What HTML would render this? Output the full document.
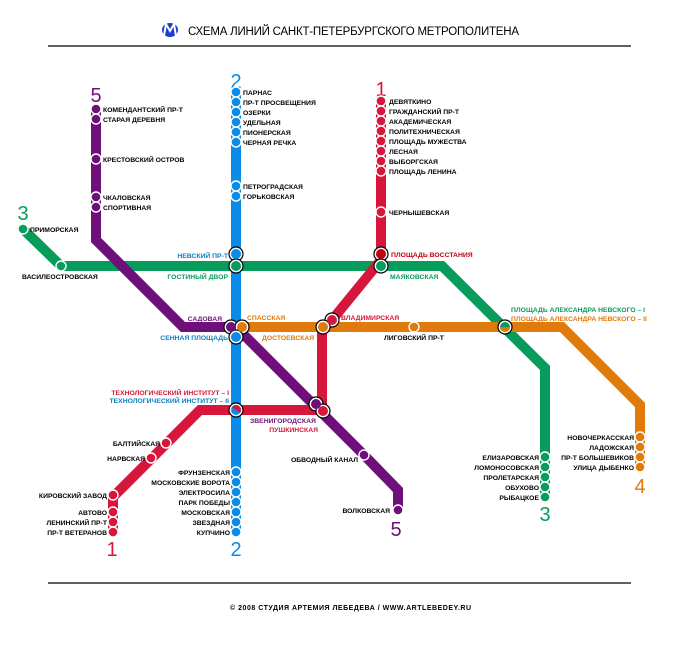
<!DOCTYPE html>
<html><head><meta charset="utf-8"><style>
body{margin:0;background:#fff}
svg{display:block}
text{font-family:"Liberation Sans","DejaVu Sans",sans-serif;font-weight:bold;font-size:6.8px}
.e{text-anchor:end}
text.num{font-size:20px;font-weight:normal;text-anchor:middle}
text.title{font-size:11.5px;font-weight:normal}
text.foot{font-size:7px}
</style></head><body>
<svg width="681" height="650" viewBox="0 0 681 650" xmlns="http://www.w3.org/2000/svg">
<g>
<ellipse cx="170" cy="30" rx="8" ry="7" fill="#1a3fd0"/>
<path d="M164 36 L166 24 L170 31 L174 24 L176 36" fill="none" stroke="#fff" stroke-width="2"/>
</g>
<text class="title" x="188" y="35" textLength="331">СХЕМА ЛИНИЙ САНКТ-ПЕТЕРБУРГСКОГО МЕТРОПОЛИТЕНА</text>
<line x1="48" y1="46" x2="631" y2="46" stroke="#000" stroke-width="1.3"/>
<line x1="48" y1="583" x2="631" y2="583" stroke="#000" stroke-width="1.3"/>
<text class="foot" x="230" y="610" textLength="241">© 2008 СТУДИЯ АРТЕМИЯ ЛЕБЕДЕВА  / WWW.ARTLEBEDEY.RU</text>

<g fill="none" stroke-width="10" stroke-linejoin="miter">
<polyline stroke="#079c5b" points="23,229 61,266 442,266 545,368 545,497"/>
<polyline stroke="#e07a0a" points="242,327 562,327 640,405 640,468"/>
<polyline stroke="#6e0f7a" points="96,109 96,240 183,327 231,327"/>
<polyline stroke="#6e0f7a" points="236,327 364,455 398,490 398,510"/>
<polyline stroke="#d6163a" points="381,100 381,260 332,320"/>
<polyline stroke="#d6163a" points="322,327 322,410 200,410 113,497 113,532"/>
<line stroke="#0a8be8" x1="236" y1="92" x2="236" y2="532"/>
</g>

<text class="num" x="236" y="88" fill="#0a8be8">2</text>
<text class="num" x="236" y="556" fill="#0a8be8">2</text>
<text class="num" x="381" y="96" fill="#d6163a">1</text>
<text class="num" x="112" y="556" fill="#d6163a">1</text>
<text class="num" x="96" y="102" fill="#6e0f7a">5</text>
<text class="num" x="396" y="536" fill="#6e0f7a">5</text>
<text class="num" x="23" y="220" fill="#079c5b">3</text>
<text class="num" x="545" y="521" fill="#079c5b">3</text>
<text class="num" x="640" y="493" fill="#e07a0a">4</text>

<g stroke="#fff" stroke-width="1.4">
<g fill="#0a8be8">
<circle cx="236" cy="92" r="5"/><circle cx="236" cy="102" r="5"/><circle cx="236" cy="112" r="5"/><circle cx="236" cy="122" r="5"/><circle cx="236" cy="132" r="5"/><circle cx="236" cy="142" r="5"/>
<circle cx="236" cy="186" r="5"/><circle cx="236" cy="196" r="5"/>
<circle cx="236" cy="472" r="5"/><circle cx="236" cy="482" r="5"/><circle cx="236" cy="492" r="5"/><circle cx="236" cy="502" r="5"/><circle cx="236" cy="512" r="5"/><circle cx="236" cy="522" r="5"/><circle cx="236" cy="532" r="5"/>
</g>
<g fill="#d6163a">
<circle cx="381" cy="101" r="5"/><circle cx="381" cy="111" r="5"/><circle cx="381" cy="121" r="5"/><circle cx="381" cy="131" r="5"/><circle cx="381" cy="141" r="5"/><circle cx="381" cy="151" r="5"/><circle cx="381" cy="161" r="5"/><circle cx="381" cy="171" r="5"/>
<circle cx="381" cy="212" r="5"/>
<circle cx="166" cy="443" r="5"/><circle cx="151" cy="458" r="5"/>
<circle cx="113" cy="495" r="5"/><circle cx="113" cy="512" r="5"/><circle cx="113" cy="522" r="5"/><circle cx="113" cy="532" r="5"/>
</g>
<g fill="#6e0f7a">
<circle cx="96" cy="109" r="5"/><circle cx="96" cy="119" r="5"/><circle cx="96" cy="159" r="5"/><circle cx="96" cy="197" r="5"/><circle cx="96" cy="207" r="5"/>
<circle cx="364" cy="455" r="5"/><circle cx="398" cy="510" r="5"/>
</g>
<g fill="#079c5b">
<circle cx="23" cy="229" r="5"/><circle cx="61" cy="266" r="5"/>
<circle cx="545" cy="457" r="5"/><circle cx="545" cy="467" r="5"/><circle cx="545" cy="477" r="5"/><circle cx="545" cy="487" r="5"/><circle cx="545" cy="497" r="5"/>
</g>
<g fill="#e07a0a">
<circle cx="414" cy="327" r="5"/>
<circle cx="640" cy="437" r="5"/><circle cx="640" cy="447" r="5"/><circle cx="640" cy="457" r="5"/><circle cx="640" cy="467" r="5"/>
</g>
</g>

<g stroke="#000" stroke-width="1.2">
<circle cx="236" cy="254" r="7" fill="#fff"/><circle cx="236" cy="266" r="7" fill="#fff"/>
<circle cx="381" cy="254" r="7" fill="#fff"/><circle cx="381" cy="266" r="7" fill="#fff"/>
<circle cx="231" cy="327" r="7" fill="#fff"/><circle cx="242" cy="327" r="7" fill="#fff"/><circle cx="236" cy="337" r="7" fill="#fff"/>
<circle cx="332" cy="320" r="7" fill="#fff"/><circle cx="323" cy="327" r="7" fill="#fff"/>
<circle cx="505" cy="327" r="7" fill="#fff"/>
<circle cx="236" cy="410" r="7" fill="#fff"/>
<circle cx="316" cy="404" r="7" fill="#fff"/><circle cx="323" cy="411" r="7" fill="#fff"/>
</g>
<g>
<circle cx="236" cy="254" r="5" fill="#0a8be8"/><circle cx="236" cy="266" r="5" fill="#079c5b"/>
<circle cx="381" cy="254" r="5" fill="#c00010"/><circle cx="381" cy="266" r="5" fill="#079c5b"/>
<circle cx="231" cy="327" r="5" fill="#6e0f7a"/><circle cx="242" cy="327" r="5" fill="#e07a0a"/><circle cx="236" cy="337" r="5" fill="#0a8be8"/>
<circle cx="332" cy="320" r="5" fill="#d6163a"/><circle cx="323" cy="327" r="5" fill="#e07a0a"/>
<circle cx="505" cy="327" r="5" fill="#079c5b"/>
<path d="M500 327 a5 5 0 0 0 10 0z" fill="#e07a0a"/>
<circle cx="236" cy="410" r="5" fill="#0a8be8"/>
<path d="M232 407 a5 5 0 0 1 8 6z" fill="#d6163a"/>
<circle cx="316" cy="404" r="5" fill="#6e0f7a"/><circle cx="323" cy="411" r="5" fill="#d6163a"/>
</g>

<g fill="#000">
<text x="243" y="95">ПАРНАС</text><text x="243" y="105">ПР-Т ПРОСВЕЩЕНИЯ</text><text x="243" y="115">ОЗЕРКИ</text><text x="243" y="125">УДЕЛЬНАЯ</text><text x="243" y="135">ПИОНЕРСКАЯ</text><text x="243" y="145">ЧЕРНАЯ РЕЧКА</text>
<text x="243" y="189">ПЕТРОГРАДСКАЯ</text><text x="243" y="199">ГОРЬКОВСКАЯ</text>
<text x="389" y="104">ДЕВЯТКИНО</text><text x="389" y="114">ГРАЖДАНСКИЙ ПР-Т</text><text x="389" y="124">АКАДЕМИЧЕСКАЯ</text><text x="389" y="134">ПОЛИТЕХНИЧЕСКАЯ</text><text x="389" y="144">ПЛОЩАДЬ МУЖЕСТВА</text><text x="389" y="154">ЛЕСНАЯ</text><text x="389" y="164">ВЫБОРГСКАЯ</text><text x="389" y="174">ПЛОЩАДЬ ЛЕНИНА</text>
<text x="389" y="215">ЧЕРНЫШЕВСКАЯ</text>
<text x="103" y="112">КОМЕНДАНТСКИЙ ПР-Т</text><text x="103" y="122">СТАРАЯ ДЕРЕВНЯ</text><text x="103" y="162">КРЕСТОВСКИЙ ОСТРОВ</text><text x="103" y="200">ЧКАЛОВСКАЯ</text><text x="103" y="210">СПОРТИВНАЯ</text>
<text x="30" y="232">ПРИМОРСКАЯ</text>
<text x="22" y="279">ВАСИЛЕОСТРОВСКАЯ</text>
<text x="384" y="340">ЛИГОВСКИЙ ПР-Т</text>
<text class="e" x="358" y="462">ОБВОДНЫЙ КАНАЛ</text>
<text class="e" x="390" y="513">ВОЛКОВСКАЯ</text>
<text class="e" x="160" y="446">БАЛТИЙСКАЯ</text><text class="e" x="145" y="461">НАРВСКАЯ</text>
<text class="e" x="107" y="498">КИРОВСКИЙ ЗАВОД</text><text class="e" x="107" y="515">АВТОВО</text><text class="e" x="107" y="525">ЛЕНИНСКИЙ ПР-Т</text><text class="e" x="107" y="535">ПР-Т ВЕТЕРАНОВ</text>
<text class="e" x="230" y="475">ФРУНЗЕНСКАЯ</text><text class="e" x="230" y="485">МОСКОВСКИЕ ВОРОТА</text><text class="e" x="230" y="495">ЭЛЕКТРОСИЛА</text><text class="e" x="230" y="505">ПАРК ПОБЕДЫ</text><text class="e" x="230" y="515">МОСКОВСКАЯ</text><text class="e" x="230" y="525">ЗВЕЗДНАЯ</text><text class="e" x="230" y="535">КУПЧИНО</text>
<text class="e" x="539" y="460">ЕЛИЗАРОВСКАЯ</text><text class="e" x="539" y="470">ЛОМОНОСОВСКАЯ</text><text class="e" x="539" y="480">ПРОЛЕТАРСКАЯ</text><text class="e" x="539" y="490">ОБУХОВО</text><text class="e" x="539" y="500">РЫБАЦКОЕ</text>
<text class="e" x="634" y="440">НОВОЧЕРКАССКАЯ</text><text class="e" x="634" y="450">ЛАДОЖСКАЯ</text><text class="e" x="634" y="460">ПР-Т БОЛЬШЕВИКОВ</text><text class="e" x="634" y="470">УЛИЦА ДЫБЕНКО</text>
</g>
<text class="e" x="228" y="258" fill="#0a7fc0">НЕВСКИЙ ПР-Т</text>
<text class="e" x="228" y="279" fill="#079c5b">ГОСТИНЫЙ ДВОР</text>
<text class="e" x="222" y="321" fill="#6e0f7a">САДОВАЯ</text>
<text class="e" x="228" y="340" fill="#0a7fc0">СЕННАЯ ПЛОЩАДЬ</text>
<text x="247" y="320" fill="#e07a0a">СПАССКАЯ</text>
<text x="262" y="340" fill="#e07a0a">ДОСТОЕВСКАЯ</text>
<text x="341" y="320" fill="#d6163a">ВЛАДИМИРСКАЯ</text>
<text x="391" y="257" fill="#c00010">ПЛОЩАДЬ ВОССТАНИЯ</text>
<text x="390" y="279" fill="#079c5b">МАЯКОВСКАЯ</text>
<text x="511" y="312" fill="#079c5b">ПЛОЩАДЬ АЛЕКСАНДРА НЕВСКОГО – I</text>
<text x="511" y="321" fill="#e07a0a">ПЛОЩАДЬ АЛЕКСАНДРА НЕВСКОГО – II</text>
<text class="e" x="229" y="395" fill="#d6163a">ТЕХНОЛОГИЧЕСКИЙ ИНСТИТУТ – I</text>
<text class="e" x="229" y="403" fill="#0a7fc0">ТЕХНОЛОГИЧЕСКИЙ ИНСТИТУТ – II</text>
<text x="250" y="423" fill="#6e0f7a">ЗВЕНИГОРОДСКАЯ</text>
<text class="e" x="318" y="432" fill="#d6163a">ПУШКИНСКАЯ</text>
</svg>
</body></html>
